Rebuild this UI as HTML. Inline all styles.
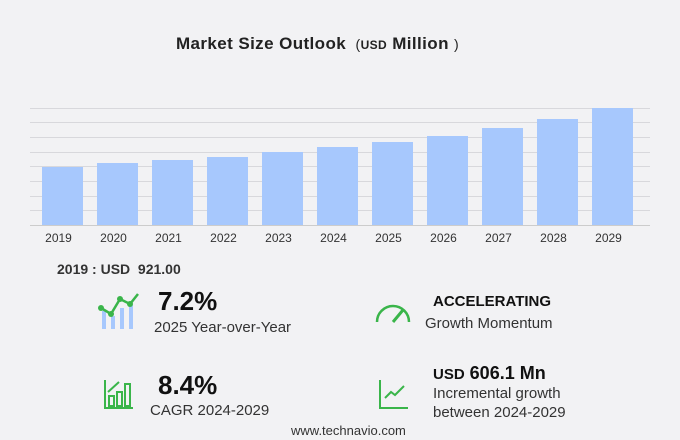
<!DOCTYPE html>
<html><head><style>
*{margin:0;padding:0}
body{width:680px;height:440px;background:#f2f2f4;font-family:"Liberation Sans",sans-serif;position:relative;overflow:hidden;color:#222}
.a{position:absolute;white-space:nowrap}
.g{position:absolute;left:30px;width:620px;height:1px;background:#d8d8dc}
.b{position:absolute;width:41px;background:#a7c8fd;bottom:215px}
.yl{position:absolute;top:231px;font-size:12px;color:#333;width:41px;text-align:center}
</style></head><body>
<div class="a" style="left:176px;top:34px;font-size:17px;font-weight:bold;color:#222;letter-spacing:0.4px">Market Size Outlook <span style="font-weight:normal;font-size:14px">&nbsp;(</span><span style="font-size:12px">USD</span> Million <span style="font-weight:normal;font-size:14px">)</span></div>
<div class="g" style="top:108px"></div><div class="g" style="top:122px"></div><div class="g" style="top:137px"></div><div class="g" style="top:152px"></div><div class="g" style="top:166px"></div><div class="g" style="top:181px"></div><div class="g" style="top:196px"></div><div class="g" style="top:210px"></div><div class="g" style="top:225px;background:#ccc"></div>
<div class="b" style="left:42px;top:167px"></div>
<div class="b" style="left:97px;top:163px"></div>
<div class="b" style="left:152px;top:160px"></div>
<div class="b" style="left:207px;top:157px"></div>
<div class="b" style="left:262px;top:152px"></div>
<div class="b" style="left:317px;top:147px"></div>
<div class="b" style="left:372px;top:142px"></div>
<div class="b" style="left:427px;top:136px"></div>
<div class="b" style="left:482px;top:128px"></div>
<div class="b" style="left:537px;top:119px"></div>
<div class="b" style="left:592px;top:108px"></div>
<div class="yl" style="left:38px">2019</div><div class="yl" style="left:93px">2020</div><div class="yl" style="left:148px">2021</div><div class="yl" style="left:203px">2022</div><div class="yl" style="left:258px">2023</div><div class="yl" style="left:313px">2024</div><div class="yl" style="left:368px">2025</div><div class="yl" style="left:423px">2026</div><div class="yl" style="left:478px">2027</div><div class="yl" style="left:533px">2028</div><div class="yl" style="left:588px">2029</div>
<div class="a" style="left:57px;top:261px;font-size:14px;font-weight:bold;color:#333">2019 : USD&nbsp; 921.00</div>
<svg class="a" style="left:98px;top:291px" width="45" height="40">
<rect x="4" y="20" width="4" height="18" fill="#a7c8fd"/><rect x="13" y="25" width="4" height="13" fill="#a7c8fd"/><rect x="22" y="17" width="4" height="21" fill="#a7c8fd"/><rect x="31" y="14" width="4" height="24" fill="#a7c8fd"/>
<polyline points="3,17 13,23 22,8 32,13 40,3" fill="none" stroke="#3ab54a" stroke-width="2.5"/>
<circle cx="3" cy="17" r="3" fill="#3ab54a"/><circle cx="13" cy="23" r="3" fill="#3ab54a"/><circle cx="22" cy="8" r="3" fill="#3ab54a"/><circle cx="32" cy="13" r="3" fill="#3ab54a"/></svg>
<div class="a" style="left:158px;top:286px;font-size:26px;font-weight:bold;color:#111">7.2%</div>
<div class="a" style="left:154px;top:319px;font-size:15px;color:#333">2025 Year-over-Year</div>
<svg class="a" style="left:373px;top:298px" width="40" height="28"><path d="M4 24 A16 16 0 0 1 36 24" fill="none" stroke="#3ab54a" stroke-width="2.5"/><line x1="20" y1="24" x2="30" y2="12" stroke="#3ab54a" stroke-width="3"/></svg>
<div class="a" style="left:433px;top:293px;font-size:15px;font-weight:bold;color:#111">ACCELERATING</div>
<div class="a" style="left:425px;top:315px;font-size:15px;color:#333">Growth Momentum</div>
<svg class="a" style="left:103px;top:378px" width="32" height="32"><g fill="none" stroke="#3ab54a" stroke-width="2"><path d="M2 2 V30 H30"/><rect x="6" y="18" width="5" height="10"/><rect x="14" y="14" width="5" height="14"/><rect x="22" y="6" width="5" height="22"/><path d="M5 14 L16 4"/></g></svg>
<div class="a" style="left:158px;top:370px;font-size:26px;font-weight:bold;color:#111">8.4%</div>
<div class="a" style="left:150px;top:402px;font-size:15px;color:#333">CAGR 2024-2029</div>
<svg class="a" style="left:378px;top:378px" width="32" height="32"><g fill="none" stroke="#3ab54a" stroke-width="2"><path d="M2 2 V30 H30"/><path d="M7 20 L13 14 L17 17 L26 8"/></g></svg>
<div class="a" style="left:433px;top:363px;font-size:18px;font-weight:bold;color:#111"><span style="font-size:15px">USD</span> 606.1 Mn</div>
<div class="a" style="left:433px;top:385px;font-size:15px;color:#333">Incremental growth</div>
<div class="a" style="left:433px;top:404px;font-size:15px;color:#333">between 2024-2029</div>
<div class="a" style="left:291px;top:423px;font-size:13px;color:#333">www.technavio.com</div>
</body></html>
